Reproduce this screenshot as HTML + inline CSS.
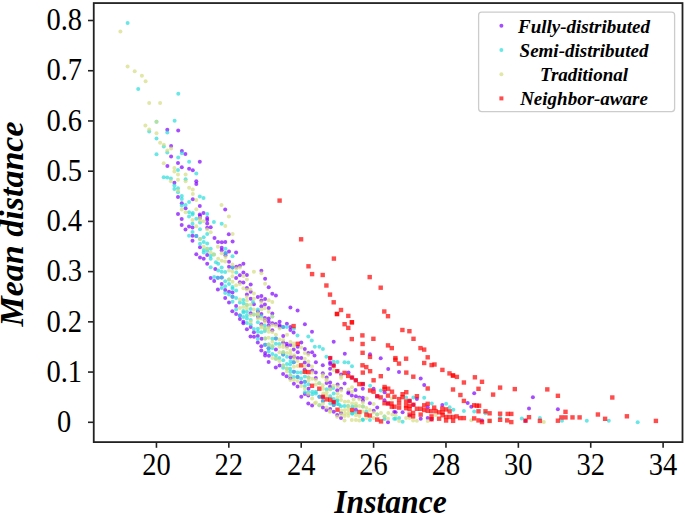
<!DOCTYPE html>
<html><head><meta charset="utf-8"><style>
html,body{margin:0;padding:0;background:#fff;overflow:hidden;}
svg{display:block;}
.tk{font-family:"Liberation Serif",serif;font-size:31px;fill:#000;}
.al{font-family:"Liberation Serif",serif;font-size:34px;font-weight:bold;font-style:italic;fill:#000;}
.lg{font-family:"Liberation Serif",serif;font-size:19px;font-weight:bold;font-style:italic;fill:#000;}
</style></head><body>
<svg width="685" height="513" viewBox="0 0 685 513">
<rect x="0" y="0" width="685" height="513" fill="#fff"/>
<g fill="#8000ff" fill-opacity="0.7"><circle cx="167.3" cy="129.8" r="2.0"/><circle cx="178.2" cy="130.6" r="2.0"/><circle cx="171.1" cy="146.0" r="2.0"/><circle cx="171.1" cy="156.5" r="2.0"/><circle cx="181.9" cy="151.1" r="2.0"/><circle cx="185.4" cy="154.0" r="2.0"/><circle cx="167.4" cy="165.9" r="2.0"/><circle cx="178.0" cy="163.0" r="2.0"/><circle cx="199.8" cy="161.8" r="2.0"/><circle cx="181.8" cy="167.3" r="2.0"/><circle cx="189.1" cy="168.8" r="2.0"/><circle cx="192.8" cy="170.2" r="2.0"/><circle cx="174.4" cy="182.7" r="2.0"/><circle cx="196.3" cy="181.3" r="2.0"/><circle cx="196.3" cy="184.0" r="2.0"/><circle cx="178.0" cy="197.1" r="2.0"/><circle cx="192.8" cy="199.2" r="2.0"/><circle cx="181.8" cy="203.2" r="2.0"/><circle cx="185.6" cy="208.2" r="2.0"/><circle cx="199.8" cy="206.1" r="2.0"/><circle cx="178.0" cy="214.1" r="2.0"/><circle cx="199.8" cy="214.4" r="2.0"/><circle cx="203.5" cy="212.9" r="2.0"/><circle cx="225.2" cy="209.4" r="2.0"/><circle cx="181.7" cy="219.0" r="2.0"/><circle cx="181.7" cy="225.1" r="2.0"/><circle cx="189.0" cy="226.6" r="2.0"/><circle cx="192.5" cy="227.5" r="2.0"/><circle cx="200.0" cy="216.1" r="2.0"/><circle cx="200.0" cy="218.1" r="2.0"/><circle cx="207.2" cy="218.1" r="2.0"/><circle cx="207.2" cy="219.9" r="2.0"/><circle cx="207.2" cy="223.4" r="2.0"/><circle cx="210.7" cy="227.2" r="2.0"/><circle cx="207.2" cy="227.8" r="2.0"/><circle cx="185.5" cy="229.5" r="2.0"/><circle cx="228.8" cy="234.3" r="2.0"/><circle cx="214.5" cy="237.9" r="2.0"/><circle cx="218.0" cy="241.9" r="2.0"/><circle cx="221.8" cy="242.2" r="2.0"/><circle cx="225.3" cy="241.9" r="2.0"/><circle cx="232.6" cy="241.4" r="2.0"/><circle cx="192.5" cy="235.8" r="2.0"/><circle cx="196.3" cy="236.1" r="2.0"/><circle cx="192.5" cy="240.8" r="2.0"/><circle cx="200.0" cy="247.3" r="2.0"/><circle cx="207.2" cy="255.1" r="2.0"/><circle cx="196.3" cy="254.3" r="2.0"/><circle cx="200.0" cy="257.5" r="2.0"/><circle cx="203.7" cy="258.7" r="2.0"/><circle cx="221.7" cy="247.7" r="2.0"/><circle cx="221.7" cy="250.3" r="2.0"/><circle cx="229.0" cy="251.5" r="2.0"/><circle cx="236.1" cy="252.6" r="2.0"/><circle cx="225.5" cy="253.2" r="2.0"/><circle cx="225.5" cy="255.3" r="2.0"/><circle cx="229.0" cy="261.7" r="2.0"/><circle cx="243.4" cy="263.8" r="2.0"/><circle cx="229.0" cy="266.7" r="2.0"/><circle cx="232.5" cy="267.6" r="2.0"/><circle cx="236.3" cy="266.7" r="2.0"/><circle cx="239.9" cy="265.8" r="2.0"/><circle cx="215.3" cy="269.0" r="2.0"/><circle cx="243.4" cy="272.5" r="2.0"/><circle cx="207.2" cy="263.8" r="2.0"/><circle cx="210.7" cy="278.1" r="2.0"/><circle cx="214.2" cy="281.1" r="2.0"/><circle cx="217.9" cy="277.7" r="2.0"/><circle cx="221.7" cy="277.4" r="2.0"/><circle cx="236.1" cy="278.0" r="2.0"/><circle cx="239.9" cy="275.3" r="2.0"/><circle cx="246.9" cy="275.0" r="2.0"/><circle cx="239.9" cy="282.3" r="2.0"/><circle cx="243.4" cy="282.6" r="2.0"/><circle cx="250.7" cy="284.4" r="2.0"/><circle cx="221.7" cy="284.1" r="2.0"/><circle cx="217.9" cy="289.4" r="2.0"/><circle cx="225.2" cy="290.0" r="2.0"/><circle cx="246.9" cy="287.9" r="2.0"/><circle cx="250.7" cy="291.7" r="2.0"/><circle cx="229.0" cy="291.7" r="2.0"/><circle cx="232.5" cy="292.6" r="2.0"/><circle cx="232.5" cy="296.7" r="2.0"/><circle cx="225.2" cy="298.1" r="2.0"/><circle cx="246.9" cy="294.6" r="2.0"/><circle cx="250.7" cy="298.7" r="2.0"/><circle cx="229.0" cy="302.5" r="2.0"/><circle cx="261.4" cy="270.8" r="2.0"/><circle cx="265.1" cy="278.8" r="2.0"/><circle cx="268.7" cy="287.3" r="2.0"/><circle cx="272.3" cy="293.8" r="2.0"/><circle cx="275.9" cy="295.5" r="2.0"/><circle cx="257.8" cy="297.0" r="2.0"/><circle cx="261.4" cy="296.1" r="2.0"/><circle cx="265.1" cy="299.0" r="2.0"/><circle cx="261.4" cy="300.5" r="2.0"/><circle cx="253.9" cy="304.2" r="2.0"/><circle cx="236.1" cy="305.9" r="2.0"/><circle cx="232.3" cy="311.2" r="2.0"/><circle cx="250.7" cy="313.2" r="2.0"/><circle cx="236.1" cy="314.1" r="2.0"/><circle cx="239.9" cy="315.6" r="2.0"/><circle cx="239.9" cy="319.1" r="2.0"/><circle cx="243.4" cy="321.7" r="2.0"/><circle cx="243.4" cy="323.2" r="2.0"/><circle cx="250.7" cy="327.0" r="2.0"/><circle cx="246.9" cy="329.3" r="2.0"/><circle cx="253.9" cy="332.2" r="2.0"/><circle cx="264.9" cy="304.5" r="2.0"/><circle cx="261.4" cy="306.2" r="2.0"/><circle cx="268.7" cy="308.0" r="2.0"/><circle cx="290.4" cy="307.4" r="2.0"/><circle cx="272.3" cy="313.5" r="2.0"/><circle cx="261.4" cy="314.1" r="2.0"/><circle cx="257.9" cy="311.5" r="2.0"/><circle cx="257.9" cy="316.7" r="2.0"/><circle cx="264.9" cy="317.9" r="2.0"/><circle cx="268.7" cy="318.5" r="2.0"/><circle cx="264.9" cy="320.2" r="2.0"/><circle cx="268.7" cy="321.7" r="2.0"/><circle cx="279.6" cy="321.7" r="2.0"/><circle cx="286.9" cy="323.8" r="2.0"/><circle cx="272.3" cy="323.2" r="2.0"/><circle cx="275.8" cy="324.0" r="2.0"/><circle cx="279.6" cy="326.7" r="2.0"/><circle cx="279.6" cy="325.2" r="2.0"/><circle cx="283.1" cy="327.0" r="2.0"/><circle cx="290.4" cy="327.0" r="2.0"/><circle cx="290.4" cy="329.9" r="2.0"/><circle cx="261.4" cy="324.3" r="2.0"/><circle cx="268.7" cy="325.5" r="2.0"/><circle cx="272.3" cy="330.2" r="2.0"/><circle cx="293.6" cy="332.5" r="2.0"/><circle cx="297.6" cy="310.6" r="2.0"/><circle cx="304.9" cy="324.3" r="2.0"/><circle cx="312.0" cy="331.7" r="2.0"/><circle cx="250.5" cy="336.5" r="2.0"/><circle cx="254.0" cy="336.8" r="2.0"/><circle cx="257.8" cy="335.9" r="2.0"/><circle cx="261.6" cy="338.8" r="2.0"/><circle cx="257.8" cy="342.6" r="2.0"/><circle cx="265.1" cy="344.7" r="2.0"/><circle cx="261.3" cy="346.2" r="2.0"/><circle cx="268.6" cy="348.2" r="2.0"/><circle cx="261.3" cy="350.5" r="2.0"/><circle cx="265.1" cy="352.9" r="2.0"/><circle cx="265.1" cy="355.5" r="2.0"/><circle cx="268.9" cy="355.8" r="2.0"/><circle cx="268.6" cy="361.9" r="2.0"/><circle cx="283.2" cy="335.9" r="2.0"/><circle cx="275.9" cy="338.6" r="2.0"/><circle cx="283.2" cy="342.6" r="2.0"/><circle cx="286.7" cy="343.8" r="2.0"/><circle cx="290.5" cy="345.0" r="2.0"/><circle cx="301.3" cy="342.6" r="2.0"/><circle cx="297.8" cy="346.7" r="2.0"/><circle cx="287.0" cy="346.1" r="2.0"/><circle cx="275.9" cy="349.4" r="2.0"/><circle cx="293.7" cy="349.4" r="2.0"/><circle cx="304.8" cy="349.1" r="2.0"/><circle cx="297.8" cy="352.3" r="2.0"/><circle cx="308.3" cy="352.9" r="2.0"/><circle cx="312.1" cy="352.3" r="2.0"/><circle cx="283.2" cy="354.6" r="2.0"/><circle cx="290.5" cy="357.3" r="2.0"/><circle cx="294.0" cy="356.7" r="2.0"/><circle cx="297.8" cy="358.1" r="2.0"/><circle cx="301.3" cy="358.1" r="2.0"/><circle cx="314.5" cy="355.5" r="2.0"/><circle cx="293.7" cy="362.2" r="2.0"/><circle cx="304.8" cy="362.5" r="2.0"/><circle cx="333.7" cy="341.8" r="2.0"/><circle cx="344.8" cy="353.8" r="2.0"/><circle cx="330.2" cy="358.1" r="2.0"/><circle cx="315.9" cy="362.2" r="2.0"/><circle cx="330.2" cy="362.5" r="2.0"/><circle cx="275.8" cy="367.4" r="2.0"/><circle cx="279.6" cy="365.6" r="2.0"/><circle cx="293.9" cy="371.8" r="2.0"/><circle cx="283.1" cy="374.1" r="2.0"/><circle cx="286.6" cy="376.2" r="2.0"/><circle cx="290.4" cy="378.2" r="2.0"/><circle cx="293.9" cy="383.8" r="2.0"/><circle cx="308.5" cy="365.3" r="2.0"/><circle cx="322.8" cy="365.3" r="2.0"/><circle cx="330.1" cy="363.9" r="2.0"/><circle cx="333.6" cy="365.6" r="2.0"/><circle cx="330.1" cy="368.8" r="2.0"/><circle cx="304.6" cy="369.7" r="2.0"/><circle cx="312.3" cy="370.6" r="2.0"/><circle cx="315.8" cy="372.6" r="2.0"/><circle cx="322.8" cy="373.2" r="2.0"/><circle cx="330.1" cy="374.1" r="2.0"/><circle cx="297.6" cy="377.0" r="2.0"/><circle cx="315.8" cy="377.9" r="2.0"/><circle cx="326.6" cy="377.6" r="2.0"/><circle cx="304.9" cy="381.7" r="2.0"/><circle cx="301.1" cy="382.6" r="2.0"/><circle cx="326.6" cy="382.9" r="2.0"/><circle cx="330.1" cy="382.6" r="2.0"/><circle cx="297.6" cy="386.4" r="2.0"/><circle cx="330.1" cy="386.4" r="2.0"/><circle cx="308.5" cy="388.7" r="2.0"/><circle cx="337.3" cy="371.2" r="2.0"/><circle cx="348.5" cy="372.4" r="2.0"/><circle cx="341.1" cy="374.4" r="2.0"/><circle cx="352.0" cy="377.6" r="2.0"/><circle cx="355.8" cy="380.3" r="2.0"/><circle cx="344.6" cy="383.5" r="2.0"/><circle cx="362.8" cy="384.1" r="2.0"/><circle cx="362.8" cy="388.7" r="2.0"/><circle cx="373.6" cy="388.7" r="2.0"/><circle cx="337.6" cy="384.6" r="2.0"/><circle cx="341.1" cy="388.7" r="2.0"/><circle cx="337.3" cy="390.2" r="2.0"/><circle cx="355.5" cy="389.9" r="2.0"/><circle cx="348.5" cy="391.9" r="2.0"/><circle cx="388.2" cy="369.1" r="2.0"/><circle cx="399.0" cy="372.1" r="2.0"/><circle cx="384.6" cy="392.2" r="2.0"/><circle cx="304.8" cy="393.9" r="2.0"/><circle cx="308.3" cy="395.6" r="2.0"/><circle cx="301.3" cy="396.8" r="2.0"/><circle cx="308.3" cy="403.5" r="2.0"/><circle cx="312.1" cy="405.6" r="2.0"/><circle cx="348.3" cy="393.3" r="2.0"/><circle cx="351.8" cy="395.6" r="2.0"/><circle cx="319.4" cy="396.8" r="2.0"/><circle cx="322.9" cy="396.8" r="2.0"/><circle cx="322.9" cy="400.9" r="2.0"/><circle cx="333.7" cy="402.1" r="2.0"/><circle cx="333.7" cy="405.0" r="2.0"/><circle cx="322.9" cy="407.6" r="2.0"/><circle cx="326.4" cy="410.0" r="2.0"/><circle cx="330.2" cy="409.1" r="2.0"/><circle cx="333.7" cy="411.7" r="2.0"/><circle cx="341.0" cy="412.9" r="2.0"/><circle cx="337.2" cy="414.9" r="2.0"/><circle cx="341.0" cy="418.1" r="2.0"/><circle cx="355.9" cy="396.2" r="2.0"/><circle cx="359.4" cy="397.4" r="2.0"/><circle cx="362.9" cy="397.7" r="2.0"/><circle cx="377.2" cy="396.2" r="2.0"/><circle cx="362.9" cy="400.6" r="2.0"/><circle cx="369.9" cy="403.2" r="2.0"/><circle cx="384.5" cy="400.3" r="2.0"/><circle cx="388.0" cy="403.5" r="2.0"/><circle cx="377.2" cy="407.6" r="2.0"/><circle cx="355.9" cy="409.7" r="2.0"/><circle cx="373.7" cy="410.8" r="2.0"/><circle cx="394.2" cy="412.0" r="2.0"/><circle cx="388.0" cy="422.2" r="2.0"/><circle cx="416.9" cy="399.1" r="2.0"/><circle cx="409.6" cy="400.9" r="2.0"/><circle cx="413.4" cy="404.7" r="2.0"/><circle cx="427.7" cy="407.3" r="2.0"/><circle cx="402.6" cy="412.3" r="2.0"/><circle cx="395.6" cy="412.3" r="2.0"/><circle cx="409.6" cy="416.1" r="2.0"/><circle cx="420.7" cy="418.7" r="2.0"/><circle cx="431.5" cy="419.3" r="2.0"/><circle cx="427.7" cy="418.1" r="2.0"/><circle cx="467.7" cy="402.9" r="2.0"/><circle cx="471.3" cy="406.7" r="2.0"/><circle cx="474.2" cy="393.3" r="2.0"/><circle cx="442.3" cy="405.0" r="2.0"/><circle cx="532.9" cy="397.3" r="2.0"/><circle cx="529.0" cy="408.4" r="2.0"/><circle cx="482.0" cy="420.4" r="2.0"/><circle cx="525.5" cy="420.7" r="2.0"/><circle cx="557.9" cy="409.2" r="2.0"/><circle cx="370.0" cy="354.2" r="2.0"/><circle cx="380.7" cy="358.3" r="2.0"/><circle cx="420.7" cy="378.5" r="2.0"/><circle cx="424.2" cy="385.0" r="2.0"/></g>
<g fill="#2adddd" fill-opacity="0.7"><circle cx="127.6" cy="22.9" r="2.0"/><circle cx="138.2" cy="88.9" r="2.0"/><circle cx="178.3" cy="93.8" r="2.0"/><circle cx="156.5" cy="121.8" r="2.0"/><circle cx="174.6" cy="120.7" r="2.0"/><circle cx="149.2" cy="131.6" r="2.0"/><circle cx="167.3" cy="132.5" r="2.0"/><circle cx="156.5" cy="138.6" r="2.0"/><circle cx="163.8" cy="146.5" r="2.0"/><circle cx="167.3" cy="152.4" r="2.0"/><circle cx="156.5" cy="154.2" r="2.0"/><circle cx="181.9" cy="153.2" r="2.0"/><circle cx="178.2" cy="157.5" r="2.0"/><circle cx="189.1" cy="161.8" r="2.0"/><circle cx="178.0" cy="169.9" r="2.0"/><circle cx="196.3" cy="173.4" r="2.0"/><circle cx="163.7" cy="177.2" r="2.0"/><circle cx="167.2" cy="177.6" r="2.0"/><circle cx="170.9" cy="178.4" r="2.0"/><circle cx="185.6" cy="179.2" r="2.0"/><circle cx="174.4" cy="185.4" r="2.0"/><circle cx="174.4" cy="188.9" r="2.0"/><circle cx="178.0" cy="188.3" r="2.0"/><circle cx="178.0" cy="192.2" r="2.0"/><circle cx="181.8" cy="195.9" r="2.0"/><circle cx="181.8" cy="198.9" r="2.0"/><circle cx="199.8" cy="196.5" r="2.0"/><circle cx="203.5" cy="198.0" r="2.0"/><circle cx="189.1" cy="202.1" r="2.0"/><circle cx="181.8" cy="205.5" r="2.0"/><circle cx="185.6" cy="205.1" r="2.0"/><circle cx="189.1" cy="212.3" r="2.0"/><circle cx="192.8" cy="212.9" r="2.0"/><circle cx="207.2" cy="214.1" r="2.0"/><circle cx="189.0" cy="216.4" r="2.0"/><circle cx="196.3" cy="218.7" r="2.0"/><circle cx="192.5" cy="223.7" r="2.0"/><circle cx="200.0" cy="222.5" r="2.0"/><circle cx="213.9" cy="221.9" r="2.0"/><circle cx="200.0" cy="229.2" r="2.0"/><circle cx="192.5" cy="214.6" r="2.0"/><circle cx="221.7" cy="223.8" r="2.0"/><circle cx="192.5" cy="232.0" r="2.0"/><circle cx="207.2" cy="234.1" r="2.0"/><circle cx="189.0" cy="235.8" r="2.0"/><circle cx="196.3" cy="236.1" r="2.0"/><circle cx="203.7" cy="237.3" r="2.0"/><circle cx="200.0" cy="239.1" r="2.0"/><circle cx="203.7" cy="242.0" r="2.0"/><circle cx="207.2" cy="243.5" r="2.0"/><circle cx="200.0" cy="243.7" r="2.0"/><circle cx="203.7" cy="249.9" r="2.0"/><circle cx="207.2" cy="248.7" r="2.0"/><circle cx="210.7" cy="248.7" r="2.0"/><circle cx="203.7" cy="252.5" r="2.0"/><circle cx="207.2" cy="251.1" r="2.0"/><circle cx="213.9" cy="254.6" r="2.0"/><circle cx="210.7" cy="255.7" r="2.0"/><circle cx="210.7" cy="258.7" r="2.0"/><circle cx="225.5" cy="248.8" r="2.0"/><circle cx="232.5" cy="256.2" r="2.0"/><circle cx="225.5" cy="253.2" r="2.0"/><circle cx="215.9" cy="262.3" r="2.0"/><circle cx="218.2" cy="263.8" r="2.0"/><circle cx="232.5" cy="267.6" r="2.0"/><circle cx="221.7" cy="267.6" r="2.0"/><circle cx="218.2" cy="270.5" r="2.0"/><circle cx="221.7" cy="271.7" r="2.0"/><circle cx="225.2" cy="271.9" r="2.0"/><circle cx="236.3" cy="272.5" r="2.0"/><circle cx="210.7" cy="267.3" r="2.0"/><circle cx="214.2" cy="277.0" r="2.0"/><circle cx="217.9" cy="277.7" r="2.0"/><circle cx="221.7" cy="277.4" r="2.0"/><circle cx="225.2" cy="281.2" r="2.0"/><circle cx="229.0" cy="279.4" r="2.0"/><circle cx="229.0" cy="284.1" r="2.0"/><circle cx="225.2" cy="286.2" r="2.0"/><circle cx="221.7" cy="287.9" r="2.0"/><circle cx="232.5" cy="287.0" r="2.0"/><circle cx="232.5" cy="288.8" r="2.0"/><circle cx="236.1" cy="290.5" r="2.0"/><circle cx="225.2" cy="292.9" r="2.0"/><circle cx="229.0" cy="294.6" r="2.0"/><circle cx="232.5" cy="296.7" r="2.0"/><circle cx="236.1" cy="298.1" r="2.0"/><circle cx="243.4" cy="299.9" r="2.0"/><circle cx="232.5" cy="301.7" r="2.0"/><circle cx="239.9" cy="302.5" r="2.0"/><circle cx="253.0" cy="301.9" r="2.0"/><circle cx="243.7" cy="303.6" r="2.0"/><circle cx="246.9" cy="305.0" r="2.0"/><circle cx="250.7" cy="309.1" r="2.0"/><circle cx="236.1" cy="309.4" r="2.0"/><circle cx="243.4" cy="310.9" r="2.0"/><circle cx="243.4" cy="312.6" r="2.0"/><circle cx="246.9" cy="311.8" r="2.0"/><circle cx="253.9" cy="314.4" r="2.0"/><circle cx="239.9" cy="315.6" r="2.0"/><circle cx="246.9" cy="315.6" r="2.0"/><circle cx="243.4" cy="317.0" r="2.0"/><circle cx="246.9" cy="318.5" r="2.0"/><circle cx="246.9" cy="322.9" r="2.0"/><circle cx="250.7" cy="320.0" r="2.0"/><circle cx="250.7" cy="324.6" r="2.0"/><circle cx="253.9" cy="329.0" r="2.0"/><circle cx="257.9" cy="309.4" r="2.0"/><circle cx="272.3" cy="316.5" r="2.0"/><circle cx="261.4" cy="316.2" r="2.0"/><circle cx="257.9" cy="314.7" r="2.0"/><circle cx="257.9" cy="322.3" r="2.0"/><circle cx="283.1" cy="327.0" r="2.0"/><circle cx="286.9" cy="327.0" r="2.0"/><circle cx="293.9" cy="328.7" r="2.0"/><circle cx="264.9" cy="325.8" r="2.0"/><circle cx="257.9" cy="328.7" r="2.0"/><circle cx="264.9" cy="328.7" r="2.0"/><circle cx="257.9" cy="331.7" r="2.0"/><circle cx="261.4" cy="332.2" r="2.0"/><circle cx="264.9" cy="331.1" r="2.0"/><circle cx="257.8" cy="339.1" r="2.0"/><circle cx="265.1" cy="338.6" r="2.0"/><circle cx="272.4" cy="338.8" r="2.0"/><circle cx="265.1" cy="344.7" r="2.0"/><circle cx="268.6" cy="344.4" r="2.0"/><circle cx="272.4" cy="346.2" r="2.0"/><circle cx="268.6" cy="348.2" r="2.0"/><circle cx="272.4" cy="347.9" r="2.0"/><circle cx="268.6" cy="351.4" r="2.0"/><circle cx="272.4" cy="354.1" r="2.0"/><circle cx="297.5" cy="335.6" r="2.0"/><circle cx="308.3" cy="336.5" r="2.0"/><circle cx="275.9" cy="338.6" r="2.0"/><circle cx="311.8" cy="340.6" r="2.0"/><circle cx="275.9" cy="343.8" r="2.0"/><circle cx="279.4" cy="344.1" r="2.0"/><circle cx="314.8" cy="346.7" r="2.0"/><circle cx="283.2" cy="352.3" r="2.0"/><circle cx="275.9" cy="355.5" r="2.0"/><circle cx="283.2" cy="354.6" r="2.0"/><circle cx="287.0" cy="356.7" r="2.0"/><circle cx="275.9" cy="358.7" r="2.0"/><circle cx="279.4" cy="358.1" r="2.0"/><circle cx="283.2" cy="360.2" r="2.0"/><circle cx="290.5" cy="361.1" r="2.0"/><circle cx="293.7" cy="362.2" r="2.0"/><circle cx="319.4" cy="346.7" r="2.0"/><circle cx="322.9" cy="349.1" r="2.0"/><circle cx="326.4" cy="356.7" r="2.0"/><circle cx="333.7" cy="361.7" r="2.0"/><circle cx="337.5" cy="361.9" r="2.0"/><circle cx="344.5" cy="362.2" r="2.0"/><circle cx="348.3" cy="362.5" r="2.0"/><circle cx="283.1" cy="365.6" r="2.0"/><circle cx="283.1" cy="367.7" r="2.0"/><circle cx="286.9" cy="363.9" r="2.0"/><circle cx="290.1" cy="364.2" r="2.0"/><circle cx="286.9" cy="368.6" r="2.0"/><circle cx="290.1" cy="368.8" r="2.0"/><circle cx="290.4" cy="371.8" r="2.0"/><circle cx="293.9" cy="371.8" r="2.0"/><circle cx="290.4" cy="375.6" r="2.0"/><circle cx="293.9" cy="377.0" r="2.0"/><circle cx="297.6" cy="372.6" r="2.0"/><circle cx="301.1" cy="372.6" r="2.0"/><circle cx="297.6" cy="377.0" r="2.0"/><circle cx="301.1" cy="378.5" r="2.0"/><circle cx="304.9" cy="376.5" r="2.0"/><circle cx="308.5" cy="377.6" r="2.0"/><circle cx="304.9" cy="381.7" r="2.0"/><circle cx="308.5" cy="384.3" r="2.0"/><circle cx="319.3" cy="383.2" r="2.0"/><circle cx="304.9" cy="386.1" r="2.0"/><circle cx="326.6" cy="389.3" r="2.0"/><circle cx="330.1" cy="389.3" r="2.0"/><circle cx="333.3" cy="388.1" r="2.0"/><circle cx="312.3" cy="391.7" r="2.0"/><circle cx="315.8" cy="391.7" r="2.0"/><circle cx="304.9" cy="392.2" r="2.0"/><circle cx="308.5" cy="392.2" r="2.0"/><circle cx="352.0" cy="366.2" r="2.0"/><circle cx="370.1" cy="385.8" r="2.0"/><circle cx="380.8" cy="390.5" r="2.0"/><circle cx="312.4" cy="394.2" r="2.0"/><circle cx="315.9" cy="393.6" r="2.0"/><circle cx="333.7" cy="393.6" r="2.0"/><circle cx="319.4" cy="396.8" r="2.0"/><circle cx="330.2" cy="396.2" r="2.0"/><circle cx="333.7" cy="399.1" r="2.0"/><circle cx="337.5" cy="400.6" r="2.0"/><circle cx="322.9" cy="400.9" r="2.0"/><circle cx="330.2" cy="403.5" r="2.0"/><circle cx="333.7" cy="405.0" r="2.0"/><circle cx="337.5" cy="404.1" r="2.0"/><circle cx="341.0" cy="406.2" r="2.0"/><circle cx="344.5" cy="405.9" r="2.0"/><circle cx="319.4" cy="405.3" r="2.0"/><circle cx="352.4" cy="406.5" r="2.0"/><circle cx="352.1" cy="413.5" r="2.0"/><circle cx="355.9" cy="406.2" r="2.0"/><circle cx="362.9" cy="406.5" r="2.0"/><circle cx="366.4" cy="411.7" r="2.0"/><circle cx="377.2" cy="414.6" r="2.0"/><circle cx="355.9" cy="412.6" r="2.0"/><circle cx="362.9" cy="419.9" r="2.0"/><circle cx="369.9" cy="419.9" r="2.0"/><circle cx="384.5" cy="416.4" r="2.0"/><circle cx="384.5" cy="419.0" r="2.0"/><circle cx="394.2" cy="418.7" r="2.0"/><circle cx="406.1" cy="397.4" r="2.0"/><circle cx="413.4" cy="397.4" r="2.0"/><circle cx="424.2" cy="397.7" r="2.0"/><circle cx="431.8" cy="403.5" r="2.0"/><circle cx="399.1" cy="418.1" r="2.0"/><circle cx="402.6" cy="421.7" r="2.0"/><circle cx="395.6" cy="418.7" r="2.0"/><circle cx="446.1" cy="403.8" r="2.0"/><circle cx="449.6" cy="407.3" r="2.0"/><circle cx="453.4" cy="409.7" r="2.0"/><circle cx="463.9" cy="411.1" r="2.0"/><circle cx="474.2" cy="411.4" r="2.0"/><circle cx="485.5" cy="413.3" r="2.0"/><circle cx="500.1" cy="417.4" r="2.0"/><circle cx="521.8" cy="418.6" r="2.0"/><circle cx="539.9" cy="418.0" r="2.0"/><circle cx="562.0" cy="420.7" r="2.0"/><circle cx="586.8" cy="420.7" r="2.0"/><circle cx="608.8" cy="420.7" r="2.0"/><circle cx="637.7" cy="422.3" r="2.0"/><circle cx="337.0" cy="400.8" r="2.0"/><circle cx="339.0" cy="404.5" r="2.0"/><circle cx="348.0" cy="406.0" r="2.0"/><circle cx="352.2" cy="413.5" r="2.0"/><circle cx="362.7" cy="419.6" r="2.0"/></g>
<g fill="#d4dd80" fill-opacity="0.7"><circle cx="120.4" cy="31.5" r="2.0"/><circle cx="127.6" cy="66.4" r="2.0"/><circle cx="134.7" cy="71.3" r="2.0"/><circle cx="141.9" cy="75.8" r="2.0"/><circle cx="145.6" cy="81.3" r="2.0"/><circle cx="149.2" cy="102.9" r="2.0"/><circle cx="160.1" cy="102.9" r="2.0"/><circle cx="156.5" cy="121.8" r="2.0"/><circle cx="145.4" cy="125.6" r="2.0"/><circle cx="149.2" cy="129.5" r="2.0"/><circle cx="156.5" cy="133.3" r="2.0"/><circle cx="160.1" cy="142.7" r="2.0"/><circle cx="163.8" cy="144.8" r="2.0"/><circle cx="171.1" cy="148.5" r="2.0"/><circle cx="167.3" cy="150.5" r="2.0"/><circle cx="163.7" cy="163.2" r="2.0"/><circle cx="174.4" cy="167.9" r="2.0"/><circle cx="174.4" cy="171.6" r="2.0"/><circle cx="178.0" cy="174.6" r="2.0"/><circle cx="185.6" cy="174.6" r="2.0"/><circle cx="178.0" cy="179.8" r="2.0"/><circle cx="185.6" cy="181.3" r="2.0"/><circle cx="170.9" cy="181.3" r="2.0"/><circle cx="178.0" cy="190.7" r="2.0"/><circle cx="189.1" cy="187.7" r="2.0"/><circle cx="192.8" cy="189.5" r="2.0"/><circle cx="192.8" cy="193.9" r="2.0"/><circle cx="196.3" cy="200.0" r="2.0"/><circle cx="181.8" cy="209.4" r="2.0"/><circle cx="196.3" cy="209.2" r="2.0"/><circle cx="185.6" cy="212.3" r="2.0"/><circle cx="221.5" cy="205.1" r="2.0"/><circle cx="192.5" cy="219.9" r="2.0"/><circle cx="196.3" cy="226.3" r="2.0"/><circle cx="200.0" cy="217.9" r="2.0"/><circle cx="200.0" cy="220.5" r="2.0"/><circle cx="203.7" cy="221.3" r="2.0"/><circle cx="207.2" cy="229.6" r="2.0"/><circle cx="228.9" cy="216.5" r="2.0"/><circle cx="225.3" cy="225.9" r="2.0"/><circle cx="232.6" cy="234.1" r="2.0"/><circle cx="210.7" cy="232.3" r="2.0"/><circle cx="200.0" cy="239.1" r="2.0"/><circle cx="203.7" cy="246.7" r="2.0"/><circle cx="207.2" cy="248.7" r="2.0"/><circle cx="210.7" cy="252.5" r="2.0"/><circle cx="213.9" cy="254.6" r="2.0"/><circle cx="217.9" cy="246.8" r="2.0"/><circle cx="221.7" cy="253.2" r="2.0"/><circle cx="225.5" cy="257.1" r="2.0"/><circle cx="218.2" cy="258.8" r="2.0"/><circle cx="221.7" cy="260.8" r="2.0"/><circle cx="225.2" cy="261.4" r="2.0"/><circle cx="232.5" cy="264.6" r="2.0"/><circle cx="236.3" cy="268.5" r="2.0"/><circle cx="239.9" cy="267.6" r="2.0"/><circle cx="229.0" cy="270.5" r="2.0"/><circle cx="232.5" cy="271.7" r="2.0"/><circle cx="253.9" cy="271.7" r="2.0"/><circle cx="232.5" cy="276.2" r="2.0"/><circle cx="243.4" cy="275.9" r="2.0"/><circle cx="246.9" cy="279.4" r="2.0"/><circle cx="229.0" cy="279.4" r="2.0"/><circle cx="232.5" cy="281.8" r="2.0"/><circle cx="236.1" cy="285.3" r="2.0"/><circle cx="239.9" cy="284.1" r="2.0"/><circle cx="243.4" cy="288.2" r="2.0"/><circle cx="246.9" cy="289.7" r="2.0"/><circle cx="250.4" cy="289.4" r="2.0"/><circle cx="246.9" cy="297.0" r="2.0"/><circle cx="253.9" cy="293.5" r="2.0"/><circle cx="253.9" cy="298.7" r="2.0"/><circle cx="239.9" cy="299.6" r="2.0"/><circle cx="246.9" cy="300.5" r="2.0"/><circle cx="261.4" cy="273.3" r="2.0"/><circle cx="265.1" cy="283.8" r="2.0"/><circle cx="268.7" cy="300.2" r="2.0"/><circle cx="261.4" cy="302.3" r="2.0"/><circle cx="272.3" cy="301.9" r="2.0"/><circle cx="246.9" cy="305.0" r="2.0"/><circle cx="250.7" cy="304.8" r="2.0"/><circle cx="239.9" cy="308.0" r="2.0"/><circle cx="243.4" cy="307.1" r="2.0"/><circle cx="246.9" cy="308.6" r="2.0"/><circle cx="253.9" cy="309.4" r="2.0"/><circle cx="250.7" cy="315.0" r="2.0"/><circle cx="253.9" cy="314.4" r="2.0"/><circle cx="250.7" cy="321.7" r="2.0"/><circle cx="261.4" cy="309.4" r="2.0"/><circle cx="264.9" cy="308.3" r="2.0"/><circle cx="268.7" cy="311.8" r="2.0"/><circle cx="272.3" cy="316.5" r="2.0"/><circle cx="257.9" cy="313.3" r="2.0"/><circle cx="257.9" cy="314.7" r="2.0"/><circle cx="257.9" cy="318.5" r="2.0"/><circle cx="261.4" cy="318.5" r="2.0"/><circle cx="264.9" cy="319.7" r="2.0"/><circle cx="264.9" cy="322.0" r="2.0"/><circle cx="272.3" cy="325.0" r="2.0"/><circle cx="275.8" cy="325.8" r="2.0"/><circle cx="279.6" cy="328.5" r="2.0"/><circle cx="261.4" cy="326.1" r="2.0"/><circle cx="268.7" cy="327.3" r="2.0"/><circle cx="261.4" cy="327.6" r="2.0"/><circle cx="264.9" cy="328.7" r="2.0"/><circle cx="268.7" cy="328.7" r="2.0"/><circle cx="272.3" cy="332.0" r="2.0"/><circle cx="268.7" cy="331.7" r="2.0"/><circle cx="265.1" cy="338.6" r="2.0"/><circle cx="268.6" cy="337.7" r="2.0"/><circle cx="268.6" cy="344.4" r="2.0"/><circle cx="272.4" cy="346.2" r="2.0"/><circle cx="272.4" cy="341.8" r="2.0"/><circle cx="272.4" cy="357.9" r="2.0"/><circle cx="275.9" cy="334.8" r="2.0"/><circle cx="287.0" cy="334.8" r="2.0"/><circle cx="279.4" cy="339.4" r="2.0"/><circle cx="283.2" cy="340.0" r="2.0"/><circle cx="283.2" cy="344.4" r="2.0"/><circle cx="290.5" cy="342.1" r="2.0"/><circle cx="294.0" cy="343.5" r="2.0"/><circle cx="279.4" cy="346.7" r="2.0"/><circle cx="287.0" cy="347.9" r="2.0"/><circle cx="283.2" cy="347.0" r="2.0"/><circle cx="294.0" cy="346.2" r="2.0"/><circle cx="301.3" cy="347.6" r="2.0"/><circle cx="290.5" cy="350.5" r="2.0"/><circle cx="279.4" cy="352.3" r="2.0"/><circle cx="283.2" cy="352.3" r="2.0"/><circle cx="287.0" cy="352.9" r="2.0"/><circle cx="304.8" cy="352.9" r="2.0"/><circle cx="308.3" cy="354.7" r="2.0"/><circle cx="290.5" cy="353.8" r="2.0"/><circle cx="294.3" cy="355.2" r="2.0"/><circle cx="294.0" cy="358.5" r="2.0"/><circle cx="304.8" cy="358.7" r="2.0"/><circle cx="275.9" cy="358.7" r="2.0"/><circle cx="297.5" cy="361.1" r="2.0"/><circle cx="308.3" cy="361.4" r="2.0"/><circle cx="279.4" cy="361.1" r="2.0"/><circle cx="283.1" cy="365.6" r="2.0"/><circle cx="293.9" cy="366.8" r="2.0"/><circle cx="286.9" cy="368.6" r="2.0"/><circle cx="286.9" cy="371.5" r="2.0"/><circle cx="290.4" cy="375.6" r="2.0"/><circle cx="290.4" cy="380.0" r="2.0"/><circle cx="293.9" cy="380.0" r="2.0"/><circle cx="297.6" cy="365.9" r="2.0"/><circle cx="304.9" cy="366.2" r="2.0"/><circle cx="312.0" cy="366.5" r="2.0"/><circle cx="333.6" cy="370.0" r="2.0"/><circle cx="304.6" cy="371.5" r="2.0"/><circle cx="312.3" cy="372.4" r="2.0"/><circle cx="322.8" cy="375.0" r="2.0"/><circle cx="322.8" cy="376.5" r="2.0"/><circle cx="308.5" cy="377.6" r="2.0"/><circle cx="312.3" cy="378.8" r="2.0"/><circle cx="315.8" cy="379.7" r="2.0"/><circle cx="326.6" cy="379.4" r="2.0"/><circle cx="326.6" cy="380.5" r="2.0"/><circle cx="297.6" cy="381.1" r="2.0"/><circle cx="308.5" cy="380.5" r="2.0"/><circle cx="315.8" cy="384.6" r="2.0"/><circle cx="319.3" cy="383.2" r="2.0"/><circle cx="322.8" cy="385.2" r="2.0"/><circle cx="301.1" cy="386.1" r="2.0"/><circle cx="333.3" cy="385.8" r="2.0"/><circle cx="304.9" cy="388.7" r="2.0"/><circle cx="323.1" cy="388.7" r="2.0"/><circle cx="330.1" cy="389.3" r="2.0"/><circle cx="326.6" cy="392.2" r="2.0"/><circle cx="341.1" cy="376.2" r="2.0"/><circle cx="341.1" cy="377.9" r="2.0"/><circle cx="337.6" cy="386.4" r="2.0"/><circle cx="341.1" cy="390.5" r="2.0"/><circle cx="352.0" cy="387.3" r="2.0"/><circle cx="348.5" cy="389.6" r="2.0"/><circle cx="352.0" cy="391.7" r="2.0"/><circle cx="308.3" cy="393.9" r="2.0"/><circle cx="312.1" cy="398.6" r="2.0"/><circle cx="314.8" cy="403.2" r="2.0"/><circle cx="323.2" cy="393.6" r="2.0"/><circle cx="337.5" cy="393.6" r="2.0"/><circle cx="326.7" cy="395.6" r="2.0"/><circle cx="337.5" cy="397.4" r="2.0"/><circle cx="341.0" cy="395.9" r="2.0"/><circle cx="341.0" cy="400.0" r="2.0"/><circle cx="344.8" cy="401.8" r="2.0"/><circle cx="348.3" cy="401.5" r="2.0"/><circle cx="353.6" cy="399.4" r="2.0"/><circle cx="315.9" cy="402.6" r="2.0"/><circle cx="322.9" cy="403.8" r="2.0"/><circle cx="352.1" cy="403.5" r="2.0"/><circle cx="319.4" cy="405.3" r="2.0"/><circle cx="348.3" cy="406.2" r="2.0"/><circle cx="326.7" cy="407.6" r="2.0"/><circle cx="330.2" cy="410.9" r="2.0"/><circle cx="329.9" cy="411.7" r="2.0"/><circle cx="341.3" cy="410.5" r="2.0"/><circle cx="344.8" cy="410.0" r="2.0"/><circle cx="348.3" cy="409.4" r="2.0"/><circle cx="348.3" cy="412.9" r="2.0"/><circle cx="344.8" cy="413.5" r="2.0"/><circle cx="341.0" cy="414.7" r="2.0"/><circle cx="337.2" cy="416.7" r="2.0"/><circle cx="344.5" cy="416.1" r="2.0"/><circle cx="348.3" cy="415.8" r="2.0"/><circle cx="344.5" cy="420.5" r="2.0"/><circle cx="351.8" cy="419.9" r="2.0"/><circle cx="359.4" cy="399.2" r="2.0"/><circle cx="366.7" cy="398.6" r="2.0"/><circle cx="391.8" cy="398.6" r="2.0"/><circle cx="362.9" cy="402.4" r="2.0"/><circle cx="373.7" cy="404.1" r="2.0"/><circle cx="355.9" cy="403.5" r="2.0"/><circle cx="355.9" cy="406.2" r="2.0"/><circle cx="359.4" cy="405.9" r="2.0"/><circle cx="362.9" cy="406.5" r="2.0"/><circle cx="366.4" cy="407.9" r="2.0"/><circle cx="362.9" cy="411.4" r="2.0"/><circle cx="369.9" cy="410.0" r="2.0"/><circle cx="373.7" cy="412.6" r="2.0"/><circle cx="377.2" cy="414.6" r="2.0"/><circle cx="381.0" cy="412.9" r="2.0"/><circle cx="388.3" cy="412.9" r="2.0"/><circle cx="392.4" cy="414.6" r="2.0"/><circle cx="355.9" cy="415.2" r="2.0"/><circle cx="359.4" cy="416.1" r="2.0"/><circle cx="366.4" cy="418.1" r="2.0"/><circle cx="373.7" cy="418.1" r="2.0"/><circle cx="384.5" cy="416.4" r="2.0"/><circle cx="388.0" cy="418.7" r="2.0"/><circle cx="355.9" cy="419.9" r="2.0"/><circle cx="359.4" cy="420.5" r="2.0"/><circle cx="409.6" cy="417.9" r="2.0"/><circle cx="406.1" cy="418.1" r="2.0"/><circle cx="395.6" cy="415.2" r="2.0"/><circle cx="399.1" cy="421.1" r="2.0"/><circle cx="413.1" cy="420.5" r="2.0"/><circle cx="416.9" cy="420.8" r="2.0"/><circle cx="427.7" cy="421.1" r="2.0"/><circle cx="435.6" cy="414.9" r="2.0"/><circle cx="471.3" cy="420.2" r="2.0"/><circle cx="489.6" cy="420.9" r="2.0"/><circle cx="543.8" cy="422.1" r="2.0"/></g>
<g fill="#ff0000" fill-opacity="0.7"><rect x="277.4" y="198.4" width="4.4" height="4.4"/><rect x="291.4" y="323.9" width="4.4" height="4.4"/><rect x="295.6" y="341.6" width="4.4" height="4.4"/><rect x="349.6" y="336.9" width="4.4" height="4.4"/><rect x="328.0" y="355.9" width="4.4" height="4.4"/><rect x="298.9" y="363.1" width="4.4" height="4.4"/><rect x="331.4" y="363.4" width="4.4" height="4.4"/><rect x="302.7" y="369.6" width="4.4" height="4.4"/><rect x="306.3" y="369.9" width="4.4" height="4.4"/><rect x="309.8" y="383.6" width="4.4" height="4.4"/><rect x="317.1" y="386.5" width="4.4" height="4.4"/><rect x="360.3" y="363.1" width="4.4" height="4.4"/><rect x="364.1" y="364.9" width="4.4" height="4.4"/><rect x="367.9" y="369.0" width="4.4" height="4.4"/><rect x="360.6" y="370.4" width="4.4" height="4.4"/><rect x="335.1" y="369.0" width="4.4" height="4.4"/><rect x="342.4" y="370.7" width="4.4" height="4.4"/><rect x="346.0" y="373.7" width="4.4" height="4.4"/><rect x="349.8" y="375.4" width="4.4" height="4.4"/><rect x="353.6" y="378.1" width="4.4" height="4.4"/><rect x="371.4" y="378.1" width="4.4" height="4.4"/><rect x="357.1" y="381.9" width="4.4" height="4.4"/><rect x="360.6" y="381.9" width="4.4" height="4.4"/><rect x="367.9" y="388.3" width="4.4" height="4.4"/><rect x="371.4" y="389.5" width="4.4" height="4.4"/><rect x="396.8" y="361.4" width="4.4" height="4.4"/><rect x="404.1" y="370.4" width="4.4" height="4.4"/><rect x="378.6" y="374.0" width="4.4" height="4.4"/><rect x="411.1" y="374.5" width="4.4" height="4.4"/><rect x="382.4" y="384.8" width="4.4" height="4.4"/><rect x="386.0" y="386.5" width="4.4" height="4.4"/><rect x="382.4" y="386.8" width="4.4" height="4.4"/><rect x="389.8" y="389.5" width="4.4" height="4.4"/><rect x="404.1" y="390.0" width="4.4" height="4.4"/><rect x="320.7" y="394.6" width="4.4" height="4.4"/><rect x="324.5" y="397.2" width="4.4" height="4.4"/><rect x="328.0" y="397.5" width="4.4" height="4.4"/><rect x="331.5" y="399.9" width="4.4" height="4.4"/><rect x="335.3" y="407.5" width="4.4" height="4.4"/><rect x="349.9" y="407.8" width="4.4" height="4.4"/><rect x="375.0" y="394.0" width="4.4" height="4.4"/><rect x="378.5" y="395.2" width="4.4" height="4.4"/><rect x="385.8" y="393.4" width="4.4" height="4.4"/><rect x="392.3" y="394.6" width="4.4" height="4.4"/><rect x="382.3" y="401.0" width="4.4" height="4.4"/><rect x="385.8" y="401.3" width="4.4" height="4.4"/><rect x="389.3" y="401.3" width="4.4" height="4.4"/><rect x="389.6" y="404.5" width="4.4" height="4.4"/><rect x="392.3" y="404.5" width="4.4" height="4.4"/><rect x="357.2" y="409.8" width="4.4" height="4.4"/><rect x="364.2" y="412.4" width="4.4" height="4.4"/><rect x="367.7" y="413.3" width="4.4" height="4.4"/><rect x="375.0" y="417.4" width="4.4" height="4.4"/><rect x="378.8" y="419.2" width="4.4" height="4.4"/><rect x="400.4" y="392.0" width="4.4" height="4.4"/><rect x="396.9" y="396.9" width="4.4" height="4.4"/><rect x="400.4" y="394.9" width="4.4" height="4.4"/><rect x="414.7" y="394.0" width="4.4" height="4.4"/><rect x="403.9" y="399.3" width="4.4" height="4.4"/><rect x="407.4" y="398.7" width="4.4" height="4.4"/><rect x="411.2" y="402.5" width="4.4" height="4.4"/><rect x="396.9" y="401.0" width="4.4" height="4.4"/><rect x="396.9" y="405.4" width="4.4" height="4.4"/><rect x="403.9" y="403.4" width="4.4" height="4.4"/><rect x="407.4" y="403.7" width="4.4" height="4.4"/><rect x="403.9" y="406.0" width="4.4" height="4.4"/><rect x="407.4" y="406.9" width="4.4" height="4.4"/><rect x="414.7" y="406.6" width="4.4" height="4.4"/><rect x="418.5" y="406.6" width="4.4" height="4.4"/><rect x="422.0" y="403.1" width="4.4" height="4.4"/><rect x="425.5" y="401.6" width="4.4" height="4.4"/><rect x="422.0" y="407.8" width="4.4" height="4.4"/><rect x="425.5" y="408.6" width="4.4" height="4.4"/><rect x="429.1" y="408.9" width="4.4" height="4.4"/><rect x="432.0" y="405.4" width="4.4" height="4.4"/><rect x="407.4" y="412.4" width="4.4" height="4.4"/><rect x="410.9" y="410.7" width="4.4" height="4.4"/><rect x="410.9" y="414.2" width="4.4" height="4.4"/><rect x="418.5" y="412.4" width="4.4" height="4.4"/><rect x="429.3" y="414.2" width="4.4" height="4.4"/><rect x="429.3" y="417.1" width="4.4" height="4.4"/><rect x="458.2" y="392.8" width="4.4" height="4.4"/><rect x="461.7" y="398.7" width="4.4" height="4.4"/><rect x="472.0" y="403.1" width="4.4" height="4.4"/><rect x="440.1" y="406.3" width="4.4" height="4.4"/><rect x="443.9" y="407.2" width="4.4" height="4.4"/><rect x="447.4" y="409.2" width="4.4" height="4.4"/><rect x="433.4" y="408.9" width="4.4" height="4.4"/><rect x="436.9" y="410.1" width="4.4" height="4.4"/><rect x="440.4" y="410.1" width="4.4" height="4.4"/><rect x="440.4" y="413.0" width="4.4" height="4.4"/><rect x="443.9" y="414.8" width="4.4" height="4.4"/><rect x="447.4" y="414.8" width="4.4" height="4.4"/><rect x="450.9" y="414.8" width="4.4" height="4.4"/><rect x="454.4" y="414.2" width="4.4" height="4.4"/><rect x="457.9" y="415.9" width="4.4" height="4.4"/><rect x="461.7" y="415.9" width="4.4" height="4.4"/><rect x="436.9" y="416.5" width="4.4" height="4.4"/><rect x="443.9" y="418.3" width="4.4" height="4.4"/><rect x="450.9" y="418.6" width="4.4" height="4.4"/><rect x="472.0" y="416.2" width="4.4" height="4.4"/><rect x="479.8" y="379.6" width="4.4" height="4.4"/><rect x="476.3" y="386.6" width="4.4" height="4.4"/><rect x="497.9" y="385.4" width="4.4" height="4.4"/><rect x="512.6" y="386.9" width="4.4" height="4.4"/><rect x="545.1" y="387.2" width="4.4" height="4.4"/><rect x="490.9" y="392.4" width="4.4" height="4.4"/><rect x="474.6" y="403.5" width="4.4" height="4.4"/><rect x="476.9" y="403.5" width="4.4" height="4.4"/><rect x="476.3" y="409.1" width="4.4" height="4.4"/><rect x="483.3" y="409.1" width="4.4" height="4.4"/><rect x="487.4" y="411.1" width="4.4" height="4.4"/><rect x="497.9" y="411.5" width="4.4" height="4.4"/><rect x="505.5" y="411.7" width="4.4" height="4.4"/><rect x="509.1" y="411.7" width="4.4" height="4.4"/><rect x="497.9" y="417.6" width="4.4" height="4.4"/><rect x="476.3" y="418.2" width="4.4" height="4.4"/><rect x="479.8" y="419.9" width="4.4" height="4.4"/><rect x="487.4" y="418.7" width="4.4" height="4.4"/><rect x="505.0" y="418.2" width="4.4" height="4.4"/><rect x="509.1" y="419.9" width="4.4" height="4.4"/><rect x="523.3" y="418.5" width="4.4" height="4.4"/><rect x="526.8" y="415.0" width="4.4" height="4.4"/><rect x="537.7" y="418.7" width="4.4" height="4.4"/><rect x="555.7" y="393.6" width="4.4" height="4.4"/><rect x="610.1" y="395.3" width="4.4" height="4.4"/><rect x="563.3" y="409.6" width="4.4" height="4.4"/><rect x="559.2" y="415.2" width="4.4" height="4.4"/><rect x="563.3" y="415.2" width="4.4" height="4.4"/><rect x="570.3" y="415.2" width="4.4" height="4.4"/><rect x="577.4" y="415.2" width="4.4" height="4.4"/><rect x="555.7" y="418.5" width="4.4" height="4.4"/><rect x="595.7" y="412.3" width="4.4" height="4.4"/><rect x="602.9" y="416.6" width="4.4" height="4.4"/><rect x="624.7" y="414.1" width="4.4" height="4.4"/><rect x="653.7" y="418.7" width="4.4" height="4.4"/><rect x="298.9" y="237.1" width="4.4" height="4.4"/><rect x="331.7" y="256.4" width="4.4" height="4.4"/><rect x="306.3" y="264.1" width="4.4" height="4.4"/><rect x="309.9" y="271.9" width="4.4" height="4.4"/><rect x="320.5" y="272.8" width="4.4" height="4.4"/><rect x="367.5" y="274.9" width="4.4" height="4.4"/><rect x="324.2" y="283.3" width="4.4" height="4.4"/><rect x="378.5" y="285.5" width="4.4" height="4.4"/><rect x="327.8" y="292.4" width="4.4" height="4.4"/><rect x="331.5" y="300.1" width="4.4" height="4.4"/><rect x="338.8" y="307.8" width="4.4" height="4.4"/><rect x="334.8" y="311.8" width="4.4" height="4.4"/><rect x="334.8" y="311.8" width="4.4" height="4.4"/><rect x="346.1" y="313.7" width="4.4" height="4.4"/><rect x="349.7" y="320.1" width="4.4" height="4.4"/><rect x="349.7" y="320.1" width="4.4" height="4.4"/><rect x="342.4" y="322.0" width="4.4" height="4.4"/><rect x="346.1" y="325.7" width="4.4" height="4.4"/><rect x="382.1" y="309.3" width="4.4" height="4.4"/><rect x="385.8" y="314.0" width="4.4" height="4.4"/><rect x="360.2" y="333.2" width="4.4" height="4.4"/><rect x="371.2" y="336.6" width="4.4" height="4.4"/><rect x="400.2" y="327.8" width="4.4" height="4.4"/><rect x="407.2" y="329.0" width="4.4" height="4.4"/><rect x="411.3" y="336.6" width="4.4" height="4.4"/><rect x="360.4" y="341.8" width="4.4" height="4.4"/><rect x="385.8" y="343.2" width="4.4" height="4.4"/><rect x="389.6" y="345.9" width="4.4" height="4.4"/><rect x="418.3" y="345.9" width="4.4" height="4.4"/><rect x="422.0" y="347.4" width="4.4" height="4.4"/><rect x="360.4" y="350.6" width="4.4" height="4.4"/><rect x="367.8" y="354.7" width="4.4" height="4.4"/><rect x="393.2" y="355.9" width="4.4" height="4.4"/><rect x="393.2" y="357.6" width="4.4" height="4.4"/><rect x="403.9" y="356.5" width="4.4" height="4.4"/><rect x="425.5" y="355.1" width="4.4" height="4.4"/><rect x="422.0" y="360.8" width="4.4" height="4.4"/><rect x="429.4" y="362.9" width="4.4" height="4.4"/><rect x="432.3" y="362.3" width="4.4" height="4.4"/><rect x="425.5" y="386.3" width="4.4" height="4.4"/><rect x="440.2" y="367.7" width="4.4" height="4.4"/><rect x="447.3" y="371.2" width="4.4" height="4.4"/><rect x="450.8" y="373.3" width="4.4" height="4.4"/><rect x="450.8" y="373.3" width="4.4" height="4.4"/><rect x="454.7" y="374.7" width="4.4" height="4.4"/><rect x="461.7" y="380.3" width="4.4" height="4.4"/><rect x="472.7" y="375.1" width="4.4" height="4.4"/><rect x="450.8" y="387.3" width="4.4" height="4.4"/></g>
<rect x="93.75" y="3.07" width="588.75" height="439.03000000000003" fill="none" stroke="#222" stroke-width="1.8"/>
<line x1="88" y1="422.30" x2="93.75" y2="422.30" stroke="#222" stroke-width="1.6"/>
<text transform="translate(64.2,432.00) scale(0.92,1)" text-anchor="middle" class="tk">0</text>
<line x1="88" y1="372.07" x2="93.75" y2="372.07" stroke="#222" stroke-width="1.6"/>
<text transform="translate(64.2,381.77) scale(0.92,1)" text-anchor="middle" class="tk">0.1</text>
<line x1="88" y1="321.85" x2="93.75" y2="321.85" stroke="#222" stroke-width="1.6"/>
<text transform="translate(64.2,331.55) scale(0.92,1)" text-anchor="middle" class="tk">0.2</text>
<line x1="88" y1="271.62" x2="93.75" y2="271.62" stroke="#222" stroke-width="1.6"/>
<text transform="translate(64.2,281.32) scale(0.92,1)" text-anchor="middle" class="tk">0.3</text>
<line x1="88" y1="221.40" x2="93.75" y2="221.40" stroke="#222" stroke-width="1.6"/>
<text transform="translate(64.2,231.10) scale(0.92,1)" text-anchor="middle" class="tk">0.4</text>
<line x1="88" y1="171.18" x2="93.75" y2="171.18" stroke="#222" stroke-width="1.6"/>
<text transform="translate(64.2,180.88) scale(0.92,1)" text-anchor="middle" class="tk">0.5</text>
<line x1="88" y1="120.95" x2="93.75" y2="120.95" stroke="#222" stroke-width="1.6"/>
<text transform="translate(64.2,130.65) scale(0.92,1)" text-anchor="middle" class="tk">0.6</text>
<line x1="88" y1="70.73" x2="93.75" y2="70.73" stroke="#222" stroke-width="1.6"/>
<text transform="translate(64.2,80.43) scale(0.92,1)" text-anchor="middle" class="tk">0.7</text>
<line x1="88" y1="20.50" x2="93.75" y2="20.50" stroke="#222" stroke-width="1.6"/>
<text transform="translate(64.2,30.20) scale(0.92,1)" text-anchor="middle" class="tk">0.8</text>
<line x1="156.45" y1="442.1" x2="156.45" y2="447.8" stroke="#222" stroke-width="1.6"/>
<text transform="translate(156.45,475) scale(0.92,1)" text-anchor="middle" class="tk">20</text>
<line x1="228.83" y1="442.1" x2="228.83" y2="447.8" stroke="#222" stroke-width="1.6"/>
<text transform="translate(228.83,475) scale(0.92,1)" text-anchor="middle" class="tk">22</text>
<line x1="301.21" y1="442.1" x2="301.21" y2="447.8" stroke="#222" stroke-width="1.6"/>
<text transform="translate(301.21,475) scale(0.92,1)" text-anchor="middle" class="tk">24</text>
<line x1="373.59" y1="442.1" x2="373.59" y2="447.8" stroke="#222" stroke-width="1.6"/>
<text transform="translate(373.59,475) scale(0.92,1)" text-anchor="middle" class="tk">26</text>
<line x1="445.97" y1="442.1" x2="445.97" y2="447.8" stroke="#222" stroke-width="1.6"/>
<text transform="translate(445.97,475) scale(0.92,1)" text-anchor="middle" class="tk">28</text>
<line x1="518.35" y1="442.1" x2="518.35" y2="447.8" stroke="#222" stroke-width="1.6"/>
<text transform="translate(518.35,475) scale(0.92,1)" text-anchor="middle" class="tk">30</text>
<line x1="590.73" y1="442.1" x2="590.73" y2="447.8" stroke="#222" stroke-width="1.6"/>
<text transform="translate(590.73,475) scale(0.92,1)" text-anchor="middle" class="tk">32</text>
<line x1="663.11" y1="442.1" x2="663.11" y2="447.8" stroke="#222" stroke-width="1.6"/>
<text transform="translate(663.11,475) scale(0.92,1)" text-anchor="middle" class="tk">34</text>
<text transform="translate(390.5,513.4) scale(0.93,1)" text-anchor="middle" class="al">Instance</text>
<text transform="translate(23,224) rotate(-90)" x="0" y="0" text-anchor="middle" class="al">Mean distance</text>
<rect x="478.6" y="12.1" width="196" height="99.5" rx="3" fill="#fff" fill-opacity="0.8" stroke="#ccc" stroke-width="1.3"/>
<circle cx="501.4" cy="25.8" r="2.0" fill="#8000ff" fill-opacity="0.7"/>
<text x="584" y="32.6" text-anchor="middle" class="lg">Fully-distributed</text>
<circle cx="501.4" cy="50.0" r="2.0" fill="#2adddd" fill-opacity="0.7"/>
<text x="584" y="56.8" text-anchor="middle" class="lg">Semi-distributed</text>
<circle cx="501.4" cy="74.2" r="2.0" fill="#d4dd80" fill-opacity="0.7"/>
<text x="584" y="81.0" text-anchor="middle" class="lg">Traditional</text>
<rect x="499.4" y="96.39999999999999" width="4" height="4" fill="#ff0000" fill-opacity="0.7"/>
<text x="584" y="105.2" text-anchor="middle" class="lg">Neighbor-aware</text>
</svg></body></html>
